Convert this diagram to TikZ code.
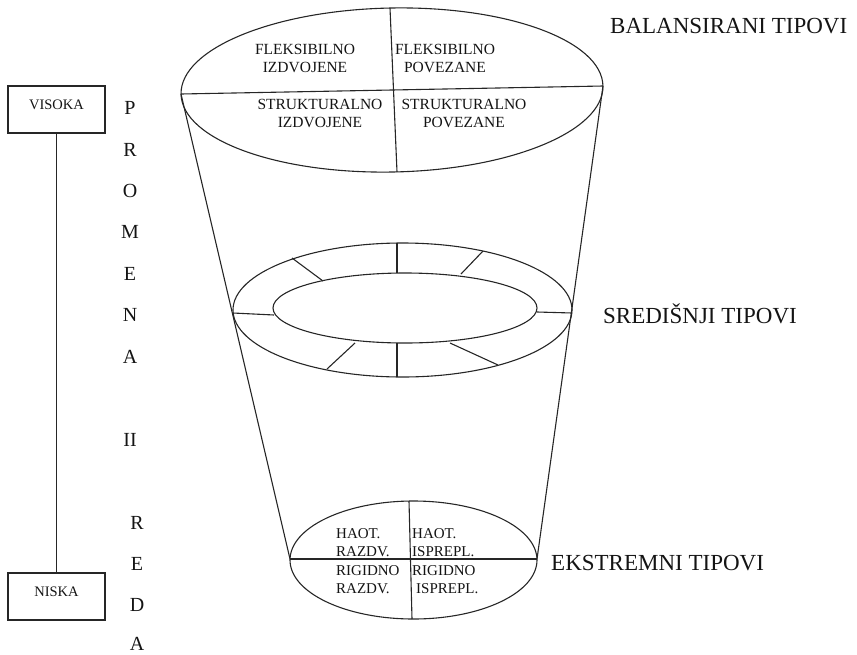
\documentclass[tikz,border=0pt]{standalone}
\usepackage{fontspec}
\setmainfont{Liberation Serif}
\begin{document}
\begin{tikzpicture}[x=1pt,y=-1pt,
  ln/.style={line width=1.1pt, draw=black!85},
  small/.style={inner sep=0pt, text=black!92, font=\fontsize{15.5}{18}\selectfont, align=center},
  smallL/.style={inner sep=0pt, text=black!92, font=\fontsize{15}{18}\selectfont, align=left, anchor=west},
  big/.style={inner sep=0pt, text=black!92, font=\fontsize{23}{26}\selectfont, anchor=base west},
  letter/.style={inner sep=0pt, text=black!92, font=\fontsize{20}{22}\selectfont},
  levelbox/.style={ln, inner xsep=0pt, inner ysep=0pt, minimum width=97pt, text height=23pt, text depth=24pt, text=black!92, font=\fontsize{14.5}{16}\selectfont}
]
\useasboundingbox (0,0) rectangle (857,654);

% key points
\coordinate (tl) at (181,94);
\coordinate (tr) at (603,86);
\coordinate (tt) at (390,8);
\coordinate (tb) at (397,172);
\coordinate (bl) at (290,559);
\coordinate (br) at (537,559);
\coordinate (bt) at (409,501);
\coordinate (bb) at (412,619);

% cone sides
\draw[ln] (tl) -- (bl);
\draw[ln] (tr) -- (br);

% top ellipse
\draw[ln, rotate around={1.1:(392,90)}] (392,90) ellipse [x radius=211pt, y radius=82pt];
\draw[ln] (tl) -- (tr);
\draw[ln] (tt) -- (tb);

% middle ring
\draw[ln] (402.5,310) ellipse [x radius=169.5pt, y radius=67pt];
\draw[ln] (405,308) ellipse [x radius=132pt, y radius=35pt];
\coordinate (s1a) at (233,313); \coordinate (s1b) at (274,315);
\coordinate (s2a) at (292,258); \coordinate (s2b) at (323,281);
\coordinate (s3a) at (397,243); \coordinate (s3b) at (397,273);
\coordinate (s4a) at (483,251); \coordinate (s4b) at (461,274);
\coordinate (s5a) at (537,312); \coordinate (s5b) at (572,313);
\coordinate (s6a) at (450,343); \coordinate (s6b) at (498,365);
\coordinate (s7a) at (397,343); \coordinate (s7b) at (397,377);
\coordinate (s8a) at (355,343); \coordinate (s8b) at (327,369);
\foreach \i in {1,...,8} { \draw[ln] (s\i a) -- (s\i b); }

% bottom ellipse
\draw[ln] (413.5,560) ellipse [x radius=123.5pt, y radius=59pt];
\draw[ln] (bl) -- (br);
\draw[ln] (bt) -- (bb);

% top ellipse texts
\node[small] (fi) at (305,58) {FLEKSIBILNO\\IZDVOJENE};
\node[small] (fp) at (445,58) {FLEKSIBILNO\\POVEZANE};
\node[small] (si) at (320,113) {STRUKTURALNO\\IZDVOJENE};
\node[small] (sp) at (464,113) {STRUKTURALNO\\POVEZANE};

% bottom ellipse texts
\node[smallL] (hr) at (336,543) {HAOT.\\RAZDV.};
\node[smallL] (hi) at (412,543) {HAOT.\\ISPREPL.};
\node[smallL] (rr) at (336,580) {RIGIDNO\\RAZDV.};
\node[smallL] (ri) at (412,580) {RIGIDNO\\\hspace*{4pt}ISPREPL.};

% side labels
\node[big] (bal) at (610,33) {BALANSIRANI TIPOVI};
\node[big] (sre) at (603,323) {SREDIŠNJI TIPOVI};
\node[big] (eks) at (551,570) {EKSTREMNI TIPOVI};

% level boxes
\node[levelbox, draw] (vis) at (56.5,109.5) {VISOKA};
\node[levelbox, draw] (nis) at (56.5,596.5) {NISKA};
\draw[ln] (vis.south) -- (nis.north);

% vertical word
\node[letter] (p1) at (130,108) {P};
\node[letter] (p2) at (130,150) {R};
\node[letter] (p3) at (130,191) {O};
\node[letter] (p4) at (130,232) {M};
\node[letter] (p5) at (130,274) {E};
\node[letter] (p6) at (130,315) {N};
\node[letter] (p7) at (130,357) {A};
\node[letter] (p8) at (130,440) {II};
\node[letter] (r1) at (137,523) {R};
\node[letter] (r2) at (137,564) {E};
\node[letter] (r3) at (137,605) {D};
\node[letter] (r4) at (137,644) {A};
\end{tikzpicture}
\end{document}
